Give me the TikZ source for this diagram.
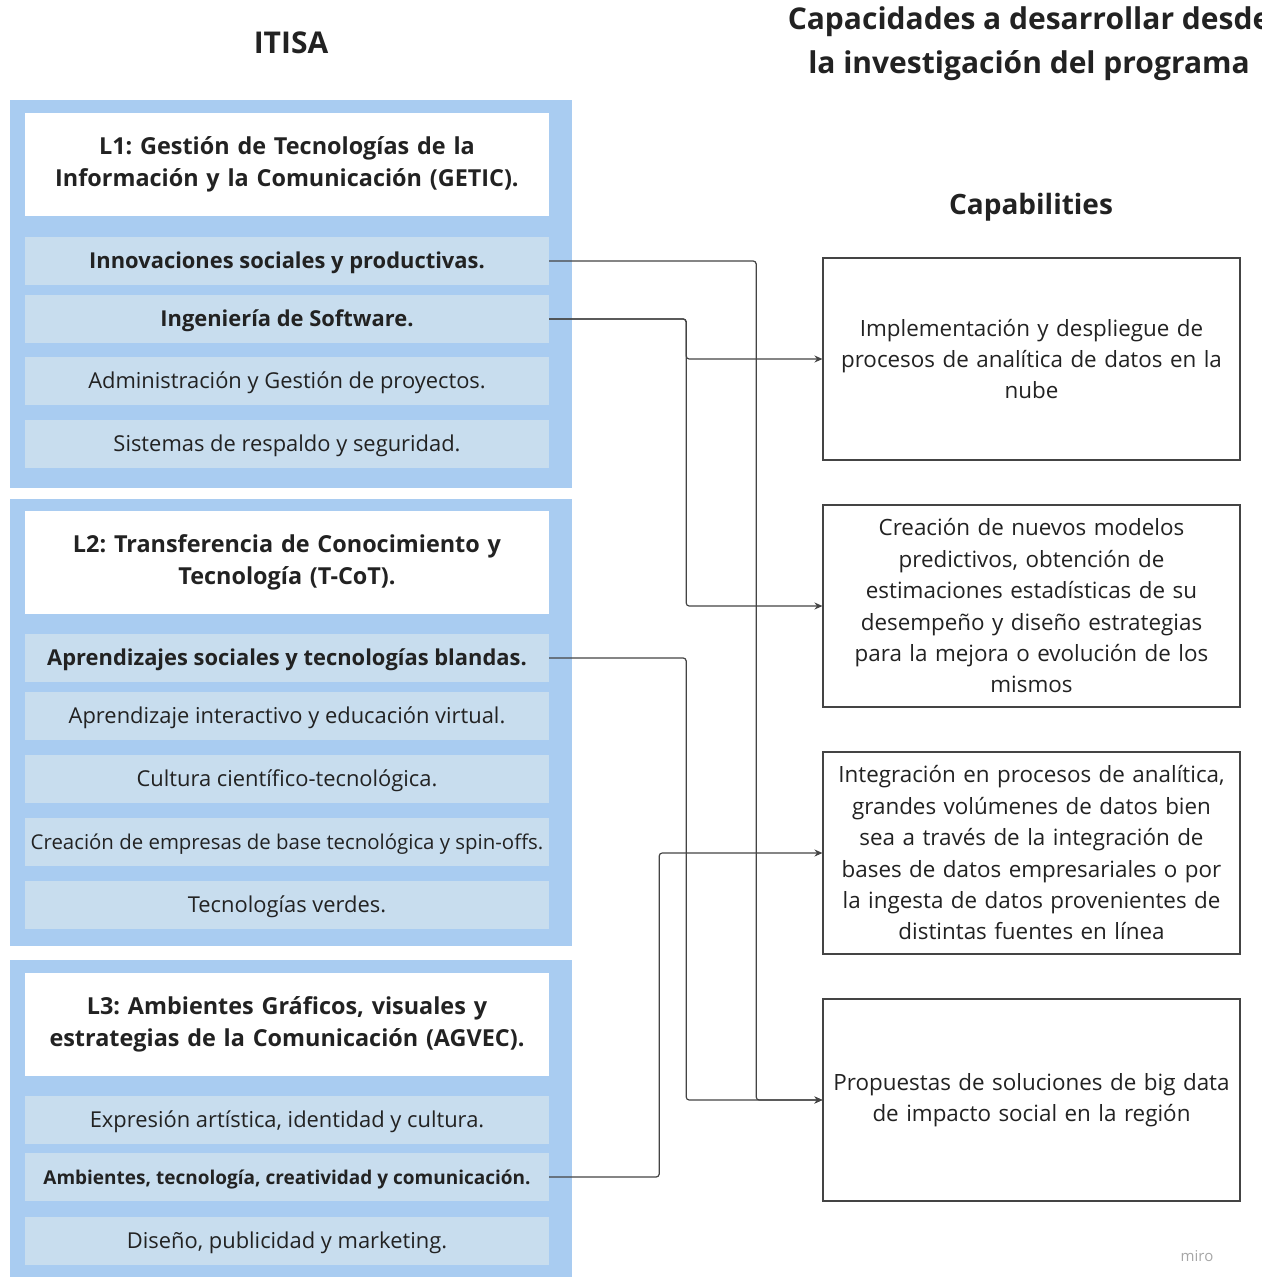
\documentclass[tikz,border=0pt]{standalone}
\usepackage{fontspec}
\setmainfont{Open Sans}
\usetikzlibrary{arrows.meta}
\definecolor{lineablue}{HTML}{A9CCF1}
\definecolor{temablue}{HTML}{C8DDEE}
\definecolor{conngray}{HTML}{444444}
\definecolor{textdark}{HTML}{222222}
\frenchspacing

\begin{document}
\begin{tikzpicture}[x=1pt, y=-1pt, font=\fontsize{21.9}{31}\selectfont, text=textdark,
  group/.style = {fill=lineablue, minimum width=562pt, anchor=north west, inner sep=0pt},
  title/.style = {fill=white, minimum width=524pt, minimum height=103pt, text width=516pt, inner sep=2pt, align=center, font=\fontsize{23.4}{32}\selectfont\bfseries},
  topic/.style = {fill=temablue, minimum width=524pt, minimum height=48pt, inner sep=1pt, text height=20pt, text depth=5pt, align=center},
  strong/.style = {topic, font=\fontsize{21.9}{31}\selectfont\bfseries},
  capab/.style = {draw=conngray, line width=1.1pt, fill=white, minimum width=417pt, minimum height=202pt, text width=410pt, inner sep=2pt, align=center, font=\fontsize{22.4}{31.4}\selectfont},
  head/.style = {font=\fontsize{30}{44}\selectfont\bfseries, align=center},
  conn/.style = {draw=conngray, line width=1.2pt, rounded corners=3pt, -{Stealth[length=8pt, width=7pt]}}]
                \useasboundingbox (0,0) rectangle (1261,1277);
                \clip (0,0) rectangle (1261,1277);
                % headers
                \node[head] (itisa) at (291,43) {ITISA};
                \node[head] (capac) at (1029,44) {Capacidades a desarrollar desde\\ la investigación del programa};
                \node[head, font=\fontsize{28}{40}\selectfont\bfseries] (capeng) at (1031,207) {Capabilities};
                % L1
                \node[group, minimum height=388pt] (g1) at (10,100) {};
                \node[title] (t1) at (287,164.5) {L1: Gestión de Tecnologías de la\\ Información y la Comunicación (GETIC).};
                \node[strong] (inn) at (287,261) {Innovaciones sociales y productivas.};
                \node[strong] (ing) at (287,319) {Ingeniería de Software.};
                \node[topic] (adm) at (287,381) {Administración y Gestión de proyectos.};
                \node[topic] (sis) at (287,444) {Sistemas de respaldo y seguridad.};
                % L2
                \node[group, minimum height=447pt] (g2) at (10,499) {};
                \node[title] (t2) at (287,562.5) {L2: Transferencia de Conocimiento y\\ Tecnología (T-CoT).};
                \node[strong] (apr) at (287,658) {Aprendizajes sociales y tecnologías blandas.};
                \node[topic] (int) at (287,716) {Aprendizaje interactivo y educación virtual.};
                \node[topic] (cul) at (287,779) {Cultura científico-tecnológica.};
                \node[topic, font=\fontsize{20.4}{31}\selectfont] (emp) at (287,842) {Creación de empresas de base tecnológica y spin-offs.};
                \node[topic] (ver) at (287,905) {Tecnologías verdes.};
                % L3
                \node[group, minimum height=340pt] (g3) at (10,960) {};
                \node[title] (t3) at (287,1024.5) {L3: Ambientes Gráficos, visuales y\\ estrategias de la Comunicación (AGVEC).};
                \node[topic] (exp) at (287,1120) {Expresión artística, identidad y cultura.};
                \node[strong, font=\fontsize{19}{31}\selectfont\bfseries] (amb) at (287,1177) {Ambientes, tecnología, creatividad y comunicación.};
                \node[topic] (dis) at (287,1241) {Diseño, publicidad y marketing.};
                % capabilities
                \node[capab] (cap1) at (1031.5,359) {Implementación y despliegue de\\ procesos de analítica de datos en la\\ nube};
                \node[capab] (cap2) at (1031.5,606) {Creación de nuevos modelos\\ predictivos, obtención de\\ estimaciones estadísticas de su\\ desempeño y diseño estrategias\\ para la mejora o evolución de los\\ mismos};
                \node[capab] (cap3) at (1031.5,853) {Integración en procesos de analítica,\\ grandes volúmenes de datos bien\\ sea a través de la integración de\\ bases de datos empresariales o por\\ la ingesta de datos provenientes de\\ distintas fuentes en línea};
                \node[capab] (cap4) at (1031.5,1100) {Propuestas de soluciones de big data\\ de impacto social en la región};
                \node[font=\fontsize{15}{15}\selectfont, text=black!35] (miro) at (1197,1256) {miro};
                % connectors
                \draw[conn] (inn.east) -- ++(207,0) |- (cap4.west);
                \draw[conn] (ing.east) -- ++(137,0) |- (cap1.west);
                \draw[conn] (ing.east) -- ++(137,0) |- (cap2.west);
                \draw[conn] (apr.east) -- ++(137,0) |- (cap4.west);
                \draw[conn] (amb.east) -- ++(110,0) |- (cap3.west);
            \end{tikzpicture}
\end{document}
